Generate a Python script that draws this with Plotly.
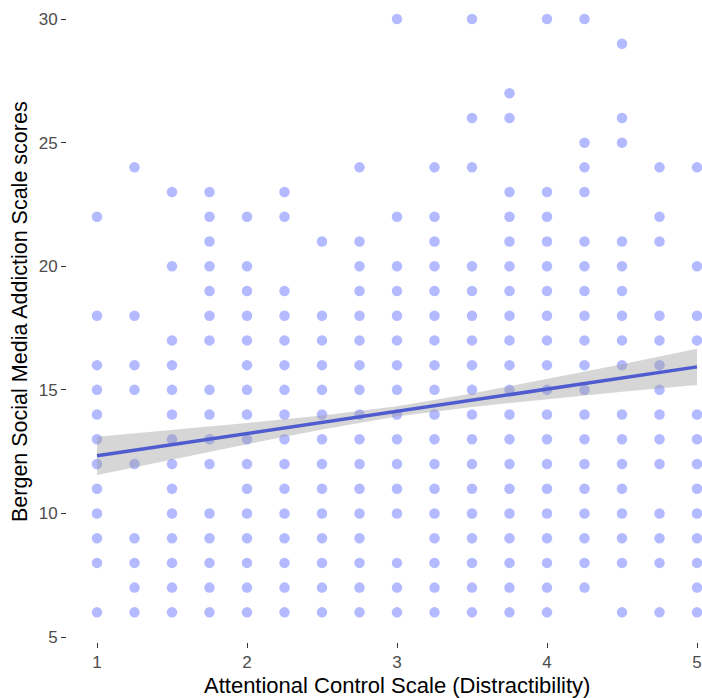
import plotly.graph_objects as go

# x categories (Attentional Control Scale, Distractibility) and observed BSMAS scores per column
x_levels = [1.0, 1.25, 1.5, 1.75, 2.0, 2.25, 2.5, 2.75, 3.0, 3.25, 3.5, 3.75, 4.0, 4.25, 4.5, 4.75, 5.0]
y_by_level = [
    [22, 18, 16, 15, 14, 13, 12, 11, 10, 9, 8, 6],
    [24, 18, 16, 15, 12, 9, 8, 7, 6],
    [23, 20, 17, 16, 15, 14, 13, 12, 11, 10, 9, 8, 7, 6],
    [23, 22, 21, 20, 19, 18, 17, 15, 14, 13, 12, 10, 9, 8, 7, 6],
    [22, 20, 19, 18, 17, 16, 15, 14, 13, 12, 11, 10, 9, 8, 7, 6],
    [23, 22, 19, 18, 17, 16, 15, 14, 13, 12, 11, 10, 9, 8, 7, 6],
    [21, 18, 17, 16, 15, 14, 13, 12, 11, 10, 9, 8, 7, 6],
    [24, 21, 20, 19, 18, 17, 16, 15, 14, 13, 12, 11, 10, 9, 8, 7, 6],
    [30, 22, 20, 19, 18, 17, 16, 15, 14, 13, 12, 11, 10, 8, 7, 6],
    [24, 22, 21, 20, 19, 18, 17, 16, 15, 14, 13, 12, 11, 10, 9, 8, 7, 6],
    [30, 26, 24, 20, 19, 18, 17, 16, 15, 14, 13, 12, 11, 10, 9, 8, 7, 6],
    [27, 26, 23, 22, 21, 20, 19, 18, 17, 16, 15, 14, 13, 12, 11, 10, 9, 8, 7, 6],
    [30, 23, 22, 21, 20, 19, 18, 17, 16, 15, 14, 13, 12, 11, 10, 9, 8, 7, 6],
    [30, 25, 24, 23, 21, 20, 19, 18, 17, 16, 15, 14, 13, 12, 11, 10, 9, 8, 7],
    [29, 26, 25, 21, 20, 19, 18, 17, 16, 14, 13, 12, 11, 10, 9, 8, 6],
    [24, 22, 21, 18, 17, 16, 15, 14, 13, 12, 10, 9, 8, 6],
    [24, 20, 18, 17, 14, 13, 12, 11, 10, 9, 8, 7, 6],
]

# linear fit line and 95% confidence band
fit_x = [1.0, 1.5, 2.0, 2.5, 3.0, 3.5, 4.0, 4.5, 5.0]
fit_y = [12.33, 12.78, 13.23, 13.68, 14.13, 14.58, 15.03, 15.48, 15.93]
band_upper = [13.10, 13.37, 13.66, 13.96, 14.34, 14.85, 15.43, 16.04, 16.66]
band_lower = [11.56, 12.19, 12.80, 13.40, 13.92, 14.31, 14.63, 14.92, 15.20]

x_ticks = [1, 2, 3, 4, 5]
y_ticks = [5, 10, 15, 20, 25, 30]
x_title = "Attentional Control Scale (Distractibility)"
y_title = "Bergen Social Media Addiction Scale scores"

px, py = [], []
for xv, ys in zip(x_levels, y_by_level):
    for yv in ys:
        px.append(xv)
        py.append(yv)

fig = go.Figure()
fig.add_trace(go.Scatter(
    x=px, y=py, mode="markers",
    marker=dict(color="#b3baff", size=10.5, line=dict(width=0)),
    hoverinfo="skip", showlegend=False))
fig.add_trace(go.Scatter(
    x=fit_x + fit_x[::-1], y=band_upper + band_lower[::-1],
    fill="toself", fillcolor="rgba(153,153,153,0.4)", line=dict(width=0),
    mode="lines", hoverinfo="skip", showlegend=False))
fig.add_trace(go.Scatter(
    x=fit_x, y=fit_y, mode="lines",
    line=dict(color="#4f5ccf", width=3.5),
    hoverinfo="skip", showlegend=False))

font_family = "Liberation Sans, Arial, sans-serif"
fig.update_layout(
    width=702, height=698,
    margin=dict(l=67, r=0, t=0, b=56),
    paper_bgcolor="white", plot_bgcolor="white",
    font=dict(family=font_family, color="#4d4d4d"),
    xaxis=dict(
        range=[0.8, 5.0333], tickvals=x_ticks, ticktext=[str(v) for v in x_ticks],
        showgrid=False, zeroline=False, showline=False, automargin=False,
        ticks="outside", ticklen=5, tickwidth=1.2, tickcolor="#333333",
        tickfont=dict(size=17, color="#4d4d4d"),
    ),
    yaxis=dict(
        range=[4.8, 30.77], tickvals=y_ticks, ticktext=[str(v) for v in y_ticks],
        showgrid=False, zeroline=False, showline=False, automargin=False,
        ticks="outside", ticklen=5, tickwidth=1.2, tickcolor="#333333",
        tickfont=dict(size=17, color="#4d4d4d"),
    ),
    annotations=[
        dict(text=x_title, xref="paper", yref="paper", x=0.52, y=-0.067,
             xanchor="center", yanchor="middle", showarrow=False,
             font=dict(size=22, color="black", family=font_family)),
        dict(text=y_title, xref="paper", yref="paper", x=-0.074, y=0.514,
             xanchor="center", yanchor="middle", showarrow=False, textangle=-90,
             font=dict(size=21.5, color="black", family=font_family)),
    ],
)

fig.write_html("out.html",
               config={"displayModeBar": False},
               post_script="document.body.style.margin='0px';document.body.style.overflow='hidden';")
